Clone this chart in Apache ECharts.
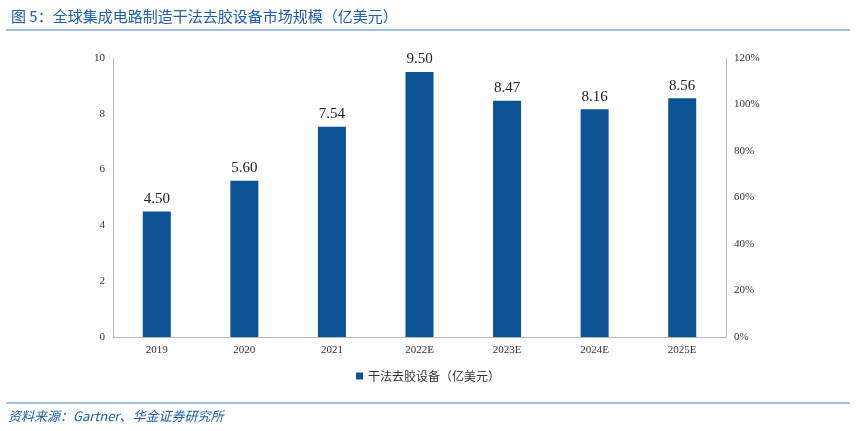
<!DOCTYPE html>
<html><head><meta charset="utf-8">
<script src="https://cdn.jsdelivr.net/npm/echarts@6/dist/echarts.min.js"></script>
<style>body{margin:0}#c{width:856px;height:431px}</style></head>
<body><div id="c"></div>
<script>
const categories=['2019','2020','2021','2022E','2023E','2024E','2025E'];
const values=[4.50,5.60,7.54,9.50,8.47,8.16,8.56];
const seriesName='干法去胶设备（亿美元）';
const chart=echarts.init(document.getElementById('c'));
const ax={color:'#333',fontFamily:'Liberation Serif',fontSize:11};
chart.setOption({
  title:{text:'图 5：全球集成电路制造干法去胶设备市场规模（亿美元）',left:6,top:4,textStyle:{color:'#1f5fae',fontSize:15,fontWeight:'normal',fontFamily:'Noto Sans CJK SC'}},
  graphic:[
    {type:'line',shape:{x1:6,y1:30,x2:850,y2:30},style:{stroke:'#4a7fc1',lineWidth:1}},
    {type:'line',shape:{x1:6,y1:403,x2:850,y2:403},style:{stroke:'#4a7fc1',lineWidth:1}},
    {type:'text',left:8,top:410,style:{text:'资料来源：Gartner、华金证券研究所',fill:'#1f5fae',font:'italic 13px "Noto Sans CJK SC"'}}
  ],
  legend:{bottom:44,left:'center',itemWidth:7,itemHeight:7,icon:'rect',textStyle:{fontSize:12,color:'#333',fontFamily:'Noto Sans CJK SC'}},
  grid:{left:113,right:130,top:58,bottom:94},
  xAxis:{type:'category',data:categories,axisTick:{show:false},axisLine:{lineStyle:{color:'#bbb'}},axisLabel:ax},
  yAxis:[
    {type:'value',min:0,max:10,interval:2,splitLine:{show:false},axisLine:{show:true,lineStyle:{color:'#bbb'}},axisLabel:ax},
    {type:'value',min:0,max:120,interval:20,splitLine:{show:false},axisLine:{show:true,lineStyle:{color:'#bbb'}},axisLabel:Object.assign({formatter:'{value}%'},ax)}
  ],
  series:[{name:seriesName,type:'bar',data:values,barWidth:28,itemStyle:{color:'#0b5394'},
    label:{show:true,position:'top',formatter:p=>p.value.toFixed(2),fontSize:15,color:'#222',fontFamily:'Liberation Serif'}}]
});
</script></body></html>
